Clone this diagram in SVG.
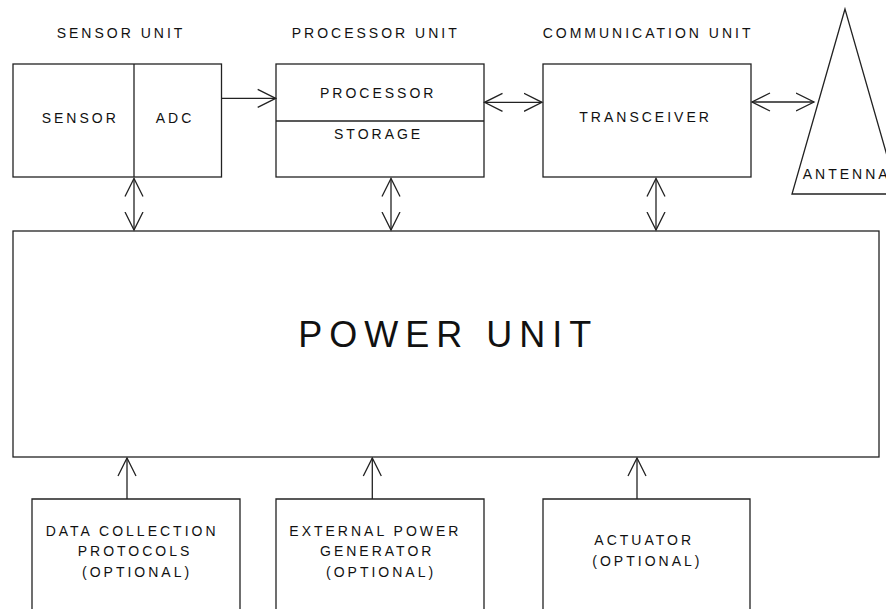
<svg xmlns="http://www.w3.org/2000/svg" width="886" height="609" viewBox="0 0 886 609">
<defs>
<style>
.b{fill:none;stroke:#222;stroke-width:1.3}
.c{fill:none;stroke:#222;stroke-width:1.3;marker-end:url(#ah)}
.d{fill:none;stroke:#222;stroke-width:1.3;marker-end:url(#ah);marker-start:url(#ah)}
.t{font-family:"Liberation Sans",Arial,sans-serif;font-size:14px;letter-spacing:3px;fill:#111}
.p{font-family:"Liberation Sans",Arial,sans-serif;font-size:36px;letter-spacing:7px;fill:#111}
</style>
<marker id="ah" markerUnits="userSpaceOnUse" viewBox="0 0 20 20" markerWidth="20" markerHeight="20" refX="18.5" refY="10" orient="auto-start-reverse">
<path d="M0.5,1 L18.5,10 L0.5,19" fill="none" stroke="#222" stroke-width="1.3"/>
</marker>
</defs>
<rect width="886" height="609" fill="#fff"/>
<g id="titles">
<text class="t" x="56.7" y="38">SENSOR UNIT</text>
<text class="t" x="291.7" y="38">PROCESSOR UNIT</text>
<text class="t" x="542.7" y="38">COMMUNICATION UNIT</text>
</g>
<g id="sensor-unit">
<rect class="b" x="13" y="64" width="208.5" height="113"/>
<line class="b" x1="134" y1="64" x2="134" y2="177"/>
<text class="t" x="41.7" y="122.7">SENSOR</text>
<text class="t" x="155.7" y="122.7">ADC</text>
</g>
<g id="processor-unit">
<rect class="b" x="276" y="64" width="208" height="113"/>
<line class="b" x1="276" y1="121" x2="484" y2="121"/>
<text class="t" x="320" y="98.3">PROCESSOR</text>
<text class="t" x="334" y="139.3">STORAGE</text>
</g>
<g id="communication-unit">
<rect class="b" x="543" y="64" width="208" height="113"/>
<text class="t" x="579.3" y="121.7">TRANSCEIVER</text>
</g>
<g id="antenna">
<polygon class="b" points="845,9 792,194 898,194"/>
<text class="t" x="802.7" y="179">ANTENNA</text>
</g>
<g id="power-unit">
<rect class="b" x="13" y="231" width="866" height="226"/>
<text class="p" x="298.3" y="347">POWER UNIT</text>
</g>
<g id="data-collection">
<path class="b" d="M32,612 V499 H240 V612"/>
<text class="t" x="45.7" y="535.7">DATA COLLECTION</text>
<text class="t" x="77.7" y="556">PROTOCOLS</text>
<text class="t" x="82" y="576.5">(OPTIONAL)</text>
</g>
<g id="external-power">
<path class="b" d="M276,612 V499 H484 V612"/>
<text class="t" x="289.3" y="535.7">EXTERNAL POWER</text>
<text class="t" x="320" y="556">GENERATOR</text>
<text class="t" x="326" y="576.5">(OPTIONAL)</text>
</g>
<g id="actuator">
<path class="b" d="M543,612 V499 H750 V612"/>
<text class="t" x="594.3" y="545">ACTUATOR</text>
<text class="t" x="592.3" y="566">(OPTIONAL)</text>
</g>
<g id="connectors">
<line class="c" x1="221.5" y1="98.3" x2="275.7" y2="98.3"/>
<line class="d" x1="484.5" y1="102.3" x2="542" y2="102.3"/>
<line class="d" x1="752" y1="102" x2="814" y2="102"/>
<line class="d" x1="134" y1="178.5" x2="134" y2="230"/>
<line class="d" x1="391" y1="178.5" x2="391" y2="230"/>
<line class="d" x1="656" y1="178.5" x2="656" y2="230"/>
<line class="c" x1="127" y1="499" x2="127" y2="458"/>
<line class="c" x1="372.3" y1="499" x2="372.3" y2="458"/>
<line class="c" x1="637" y1="499" x2="637" y2="458"/>
</g>
</svg>
